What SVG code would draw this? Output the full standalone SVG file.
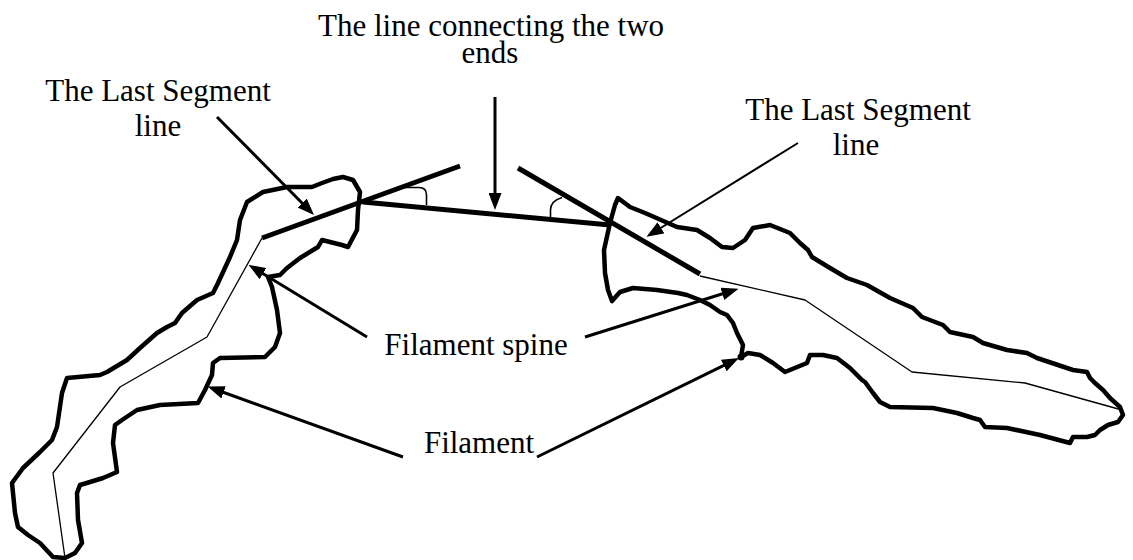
<svg xmlns="http://www.w3.org/2000/svg" width="1133" height="560" viewBox="0 0 1133 560">
  <style>
    .outline { fill: none; stroke: #000; stroke-width: 4.5; stroke-linejoin: round; stroke-linecap: round; }
    .spine { fill: none; stroke: #000; stroke-width: 1.3; stroke-linejoin: round; }
    .thick { fill: none; stroke: #000; stroke-width: 5; stroke-linecap: butt; }
    .angle { fill: none; stroke: #000; stroke-width: 1.6; }
    .lead { fill: none; stroke: #000; stroke-width: 3; }
    .lead-thin { fill: none; stroke: #000; stroke-width: 2; }
    .label { font-family: "Liberation Serif", "Times New Roman", serif; font-size: 31px; fill: #000; text-anchor: middle; }
  </style>
  <defs>
    <marker id="arrow" viewBox="0 0 17 13" refX="7" refY="6.5" markerWidth="17" markerHeight="13" markerUnits="userSpaceOnUse" orient="auto">
      <path d="M0,0 L17,6.5 L0,13 Z" fill="#000"/>
    </marker>
  </defs>

  <!-- left filament: outline, spine and last segment -->
  <g id="filament-left">
    <path class="outline" d="M343,177 L353,180 L360,192 L358,210 L357,230 L348,247 L342,245 L322,240 L318,247 L300,258 L287,268 L280,275 L268,277 L272,287 L277,310 L280,333 L275,347 L265,357 L220,358 L213,363 L212,375 L205,390 L198,403 L160,405 L137,410 L122,420 L115,425 L113,443 L117,472 L103,478 L90,482 L80,485 L77,493 L78,520 L82,543 L75,553 L65,558 L53,557 L40,543 L28,535 L18,527 L15,513 L12,483 L23,468 L40,452 L52,440 L57,427 L62,393 L67,378 L100,375 L107,372 L127,360 L140,348 L157,333 L167,327 L175,323 L182,313 L197,300 L213,293 L218,283 L230,257 L237,240 L240,220 L247,202 L263,192 L287,187 L312,187 L322,183 L333,179 Z"/>
    <polyline class="spine" points="262,238 207,337 120,387 53,473 65,558"/>
    <line class="thick" x1="262" y1="238" x2="460" y2="166"/>
  </g>

  <!-- right filament: outline, spine and last segment -->
  <g id="filament-right">
    <path class="outline" d="M618,198 L630,207 L645,213 L677,227 L697,230 L710,238 L722,247 L733,248 L745,240 L753,228 L770,225 L790,233 L800,243 L808,250 L812,257 L830,268 L847,278 L867,285 L890,298 L913,308 L922,317 L943,325 L950,332 L973,337 L983,343 L1007,350 L1027,353 L1037,358 L1073,370 L1087,372 L1090,378 L1095,383 L1103,390 L1110,398 L1120,407 L1123,415 L1118,422 L1108,425 L1100,430 L1095,435 L1087,437 L1073,437 L1070,443 L1040,435 L1007,428 L985,427 L980,420 L973,418 L957,413 L933,408 L890,407 L880,402 L873,393 L865,382 L862,380 L850,368 L837,358 L823,355 L810,355 L807,363 L785,372 L773,363 L760,355 L748,353 L741,357 L743,345 L737,333 L733,323 L727,315 L720,312 L710,305 L700,300 L687,295 L678,293 L657,290 L633,288 L620,292 L612,301 L608,290 L605,273 L604,250 L610,223 L615,205 Z"/>
    <circle cx="741" cy="357" r="3.5" fill="#000"/>
    <polyline class="spine" points="700,276 805,300 912,372 1025,383 1122,410"/>
    <line class="thick" x1="518" y1="168" x2="700" y2="274"/>
  </g>

  <!-- straight line joining the two ends, with its angle marks -->
  <g id="end-line">
    <line class="thick" x1="363" y1="202" x2="610" y2="225"/>
    <path class="angle" d="M397,187.5 L419,187.5 Q426.5,187.5 426.5,195 L426.5,205"/>
    <path class="angle" d="M562,197.5 Q550.5,201 550.5,210 L550.5,218.5"/>
  </g>

  <!-- labels -->
  <g id="label-last-segment-left">
    <text class="label" x="158" y="101">The Last Segment</text>
    <text class="label" x="158" y="136">line</text>
  </g>
  <g id="label-connecting-line">
    <text class="label" x="491" y="36">The line connecting the two</text>
    <text class="label" x="490" y="63">ends</text>
  </g>
  <g id="label-last-segment-right">
    <text class="label" x="858" y="120">The Last Segment</text>
    <text class="label" x="856" y="155">line</text>
  </g>
  <g id="label-spine">
    <text class="label" x="476" y="355">Filament spine</text>
  </g>
  <g id="label-filament">
    <text class="label" x="479" y="453">Filament</text>
  </g>

  <!-- leader arrows -->
  <g id="connectors">
    <line class="lead" x1="495" y1="97" x2="495" y2="200" marker-end="url(#arrow)"/>
    <line class="lead" x1="217" y1="117" x2="307" y2="208" marker-end="url(#arrow)"/>
    <line class="lead-thin" x1="798" y1="143" x2="655" y2="231.5" marker-end="url(#arrow)"/>
    <line class="lead" x1="367" y1="337" x2="257" y2="270" marker-end="url(#arrow)"/>
    <line class="lead" x1="585" y1="337" x2="729" y2="291.7" marker-end="url(#arrow)"/>
    <line class="lead" x1="403" y1="457" x2="217" y2="390" marker-end="url(#arrow)"/>
    <line class="lead" x1="537" y1="457" x2="730" y2="362.4" marker-end="url(#arrow)"/>
  </g>
</svg>
